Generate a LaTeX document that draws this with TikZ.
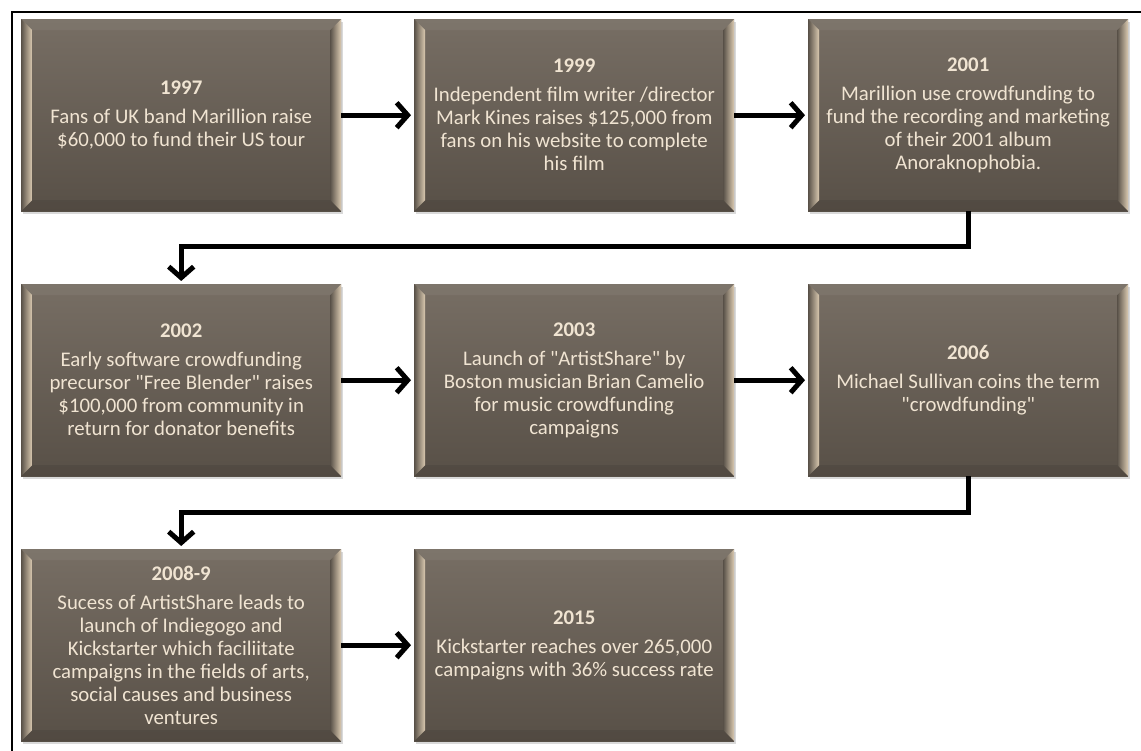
\documentclass[tikz,border=0pt]{standalone}
\usepackage{fontspec}
\setmainfont{Carlito}[Ligatures=TeXOff]
\usetikzlibrary{arrows.meta,shadows}
\definecolor{cardtop}{HTML}{776E64}
\definecolor{cardbot}{HTML}{585047}
\definecolor{bevlight}{HTML}{DCCBB2}
\definecolor{bevdark}{HTML}{5A5249}
\definecolor{cardtext}{HTML}{F0E4D2}
\tikzset{
  card/.style={rectangle, anchor=north west, minimum width=320pt, minimum height=192pt,
    inner sep=0pt, top color=cardtop, bottom color=cardbot, text=cardtext, align=center,
    font=\fontsize{20.8}{23}\selectfont,
    drop shadow={shadow xshift=1.5pt, shadow yshift=-3pt, opacity=0.3},
    path picture={
      \coordinate (pnw) at (path picture bounding box.north west);
      \coordinate (pse) at (path picture bounding box.south east);
      \coordinate (pne) at (path picture bounding box.north east);
      \coordinate (psw) at (path picture bounding box.south west);
      \shade[left color=bevdark, middle color=bevdark!70!bevlight, right color=bevlight]
        (pnw) -- ([shift={(11pt,-11pt)}]pnw) -- ([shift={(11pt,11pt)}]psw) -- (psw) -- cycle;
      \shade[left color=bevdark, middle color=bevdark!50!bevlight, right color=bevlight]
        (pne) -- (pse) -- ([shift={(-11pt,11pt)}]pse) -- ([shift={(-11pt,-11pt)}]pne) -- cycle;
      \fill[white, opacity=0.05]
        (pnw) -- (pne) -- ([shift={(-11pt,-11pt)}]pne) -- ([shift={(11pt,-11pt)}]pnw) -- cycle;
      \fill[black, opacity=0.08]
        (psw) -- (pse) -- ([shift={(-11pt,11pt)}]pse) -- ([shift={(11pt,11pt)}]psw) -- cycle;
    }},
  conn/.style={line width=5pt, line cap=butt, line join=miter,
    -{Straight Barb[length=11pt,width=25pt]}, shorten >=3pt},
}
\begin{document}
\begin{tikzpicture}[x=1pt,y=-1pt]
\useasboundingbox (0,0) rectangle (1141,751);
\draw[line width=2pt] (12,751) -- (12,12) -- (1141,12);

\node[card] (b1) at (21,19) {\textbf{1997}\\[6pt]Fans of UK band Marillion raise\\\$60,000 to fund their US tour};
\node[card] (b2) at (414,19) {\textbf{1999}\\[6pt]Independent film writer /director\\Mark Kines raises \$125,000 from\\fans on his website to complete\\his film};
\node[card] (b3) at (808,19) {\textbf{2001}\\[6pt]Marillion use crowdfunding to\\fund the recording and marketing\\of their 2001 album\\Anoraknophobia.};

\node[card] (b4) at (21,284) {\textbf{2002}\\[6pt]Early software crowdfunding\\precursor "Free Blender" raises\\\$100,000 from community in\\return for donator benefits};
\node[card] (b5) at (414,284) {\textbf{2003}\\[6pt]Launch of "ArtistShare" by\\Boston musician Brian Camelio\\for music crowdfunding\\campaigns};
\node[card] (b6) at (808,284) {\textbf{2006}\\[6pt]Michael Sullivan coins the term\\"crowdfunding"};

\node[card] (b7) at (21,549) {\textbf{2008-9}\\[6pt]Sucess of ArtistShare leads to\\launch of Indiegogo and\\Kickstarter which faciliitate\\campaigns in the fields of arts,\\social causes and business\\ventures};
\node[card] (b8) at (414,549) {\textbf{2015}\\[6pt]Kickstarter reaches over 265,000\\campaigns with 36\% success rate};

\draw[conn] (b1.east) -- (b2.west);
\draw[conn] (b2.east) -- (b3.west);
\draw[conn] (b4.east) -- (b5.west);
\draw[conn] (b5.east) -- (b6.west);
\draw[conn] (b7.east) -- (b8.west);
\draw[conn] (b3.south) -- ++(0,35) -| (b4.north);
\draw[conn] (b6.south) -- ++(0,36) -| (b7.north);
\end{tikzpicture}
\end{document}
